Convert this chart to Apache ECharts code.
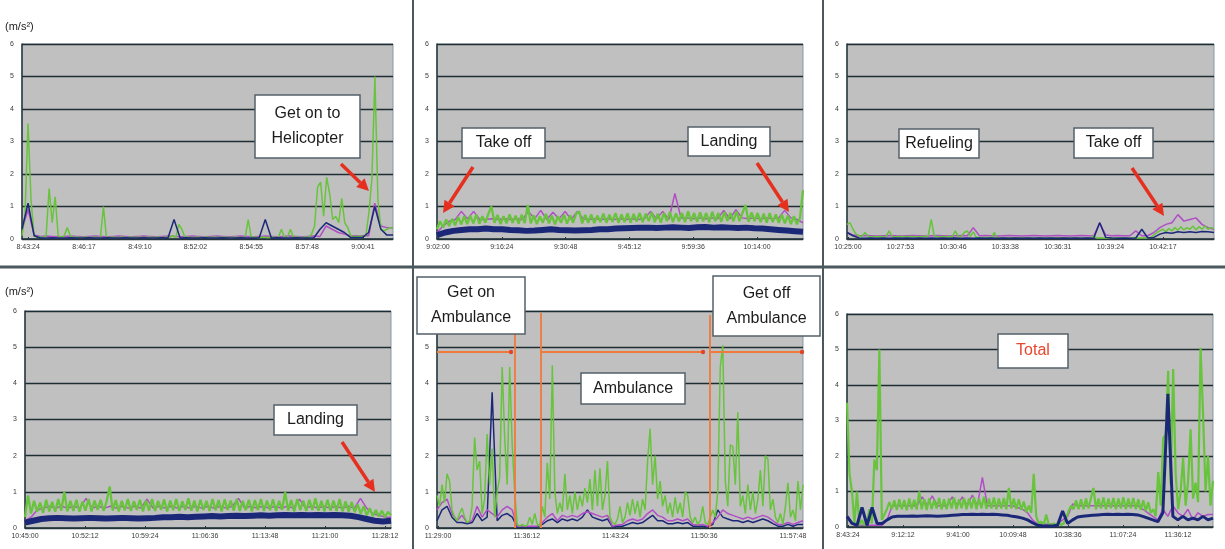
<!DOCTYPE html>
<html>
<head>
<meta charset="utf-8">
<script src="https://cdn.jsdelivr.net/npm/echarts@6/dist/echarts.min.js"></script>
<style>
  html, body { margin: 0; padding: 0; background: #fff; }
  #main { width: 1225px; height: 549px; }
</style>
</head>
<body>
<div id="main"></div>
<script>
// ---- data (acceleration, m/s2) ----
// panel 1: boarding the helicopter
const p1Span = ['8:43:05', '9:02:14'];
const p1Ticks = ['8:43:24', '8:46:17', '8:49:10', '8:52:02', '8:54:55', '8:57:48', '9:00:41'];
const p1Green = [0.1,0.75,3.55,1.2,0.1,0.05,0.06,0.05,0.1,1.55,
  0.5,1.3,0.1,0.05,0.1,0.35,0.1,0.05,0.06,0.05,
  0.05,0.06,0.05,0.05,0.06,0.05,0.05,1.0,0.05,0.05,
  0.06,0.05,0.05,0.06,0.05,0.05,0.06,0.05,0.05,0.06,
  0.05,0.05,0.06,0.05,0.05,0.06,0.05,0.05,0.06,0.05,
  0.1,0.05,0.45,0.3,0.05,0.06,0.05,0.05,0.06,0.05,
  0.05,0.06,0.05,0.05,0.06,0.05,0.05,0.06,0.05,0.05,
  0.05,0.06,0.05,0.05,0.05,0.6,0.05,0.06,0.05,0.05,
  0.06,0.05,0.05,0.06,0.05,0.05,0.3,0.05,0.05,0.3,
  0.05,0.06,0.05,0.05,0.06,0.05,0.15,0.4,1.6,1.75,
  0.7,1.9,1.4,0.6,0.7,0.5,1.25,0.5,0.35,0.1,
  0.08,0.08,0.09,0.08,0.1,0.8,1.85,5.0,1.2,0.3,
  0.25,0.3,0.35,0.33];
const p1Blue = [0.3,1.1,0.1,
  0.03,0.03,0.04,0.03,0.03,0.04,0.03,0.03,0.04,0.03,0.03,0.04,0.03,0.03,0.04,0.03,0.03,0.04,0.03,0.03,0.04,0.03,
  0.6,
  0.03,0.04,0.03,0.03,0.04,0.03,0.03,0.04,0.03,0.03,0.04,0.03,0.03,0.04,
  0.6,
  0.03,0.04,0.03,0.03,0.04,0.03,0.03,0.04,
  0.3,0.5,0.4,0.3,0.2,0.05,0.05,0.05,0.2,1.0,0.3,0.12,0.12];
const p1Purple = [0.3,0.9,0.12,
  0.08,0.09,0.08,0.07,0.08,0.09,0.08,0.07,0.08,0.09,0.08,0.07,0.08,0.09,0.08,0.07,
  0.08,0.09,0.08,0.07,0.08,0.09,0.08,0.07,0.08,0.09,0.08,0.07,0.08,0.09,0.08,0.07,
  0.08,0.09,0.08,0.07,0.08,0.09,0.08,0.07,0.08,0.09,0.08,0.07,0.08,0.09,0.08,
  0.4,0.3,0.2,0.15,0.1,0.1,0.1,0.1,1.1,0.4,0.35,0.35];

// panel 2: flight (take off to landing)
const p2Span = ['9:01:46', '10:24:23'];
const p2Ticks = ['9:02:00', '9:16:24', '9:30:48', '9:45:12', '9:59:36', '10:14:00'];
const p2Green = [0.3,0.55,0.35,0.6,0.4,0.62,0.42,0.68,0.45,0.7,
  0.46,0.72,0.48,0.75,0.47,0.7,0.5,0.78,1.0,0.5,
  0.74,0.46,0.7,0.48,0.76,0.5,0.72,0.47,0.75,0.49,
  1.05,0.48,0.73,0.46,0.7,0.5,0.77,0.48,0.72,0.45,
  0.7,0.5,0.75,0.47,0.73,0.5,0.78,0.85,0.48,0.74,
  0.5,0.76,0.49,0.72,0.52,0.78,0.5,0.75,0.53,0.8,
  0.5,0.76,0.52,0.79,0.5,0.77,0.54,0.8,0.52,0.78,
  0.55,0.82,0.52,0.78,0.5,0.8,0.55,0.83,0.52,0.79,
  0.54,0.8,0.52,0.85,0.55,0.8,0.53,0.82,0.55,0.8,
  0.52,0.84,0.55,0.8,0.53,0.83,0.56,0.8,0.54,0.85,
  0.55,0.8,1.05,0.53,0.82,0.55,0.8,0.52,0.78,0.5,
  0.8,0.52,0.76,0.5,0.75,0.48,0.72,0.46,0.7,0.45,
  0.65,1.5];
const p2Blue = [0.12,0.2,0.25,0.28,0.3,0.3,0.32,0.3,0.3,0.28,
  0.27,0.25,0.26,0.28,0.3,0.28,0.27,0.26,0.27,0.28,
  0.3,0.3,0.32,0.33,0.34,0.35,0.35,0.34,0.35,0.36,
  0.35,0.34,0.36,0.37,0.35,0.36,0.35,0.34,0.35,0.33,
  0.32,0.3,0.28,0.26,0.24,0.22];
const p2Purple = [0.2,0.4,0.55,0.6,0.85,0.62,0.85,0.6,
  0.6,0.62,0.6,0.62,0.6,0.62,0.6,
  0.85,0.62,0.88,0.6,0.82,0.62,0.85,0.6,0.85,
  0.62,0.6,0.62,0.6,0.62,0.6,0.62,0.6,0.62,0.6,0.62,
  0.85,0.62,0.85,0.6,1.4,
  0.65,0.65,0.62,0.65,0.62,0.65,0.62,
  0.88,0.62,0.9,
  0.65,0.62,0.65,0.62,0.65,0.62,0.65,
  0.88,0.65,0.6,0.5];

// panel 3: refueling, second take off
const p3Span = ['10:24:57', '10:45:05'];
const p3Ticks = ['10:25:00', '10:27:53', '10:30:46', '10:33:38', '10:36:31', '10:39:24', '10:42:17'];
const p3Green = [0.45,0.5,0.3,0.15,0.1,0.08,0.2,0.08,0.07,0.08,0.07,0.08,0.07,0.08,0.25,0.08,
  0.07,0.08,0.07,0.08,0.07,0.08,0.07,0.08,0.07,0.08,0.07,0.1,
  0.6,0.1,
  0.08,0.07,0.08,0.07,0.08,0.07,
  0.25,0.08,0.08,0.2,0.25,0.08,0.22,
  0.05,0.05,0.04,0.05,0.05,0.04,
  0.2,
  0.03,0.03,0.04,0.03,0.03,0.04,0.03,0.03,0.04,0.03,0.03,0.04,0.03,0.03,0.04,0.03,
  0.03,0.04,0.03,0.03,0.04,0.03,0.03,0.04,0.03,0.03,0.04,0.03,0.03,0.04,0.03,0.03,
  0.1,
  0.03,0.04,0.03,0.03,0.04,0.03,0.03,0.04,0.03,0.03,0.04,0.03,0.03,0.04,0.03,0.03,0.04,0.03,0.05,
  0.12,0.2,0.25,0.3,0.22,0.32,0.25,0.35,0.27,0.38,0.28,0.35,0.3,0.4,0.28,0.38,0.3,0.4,0.3,0.35,0.32];
const p3Blue = [0.2,0.1,
  0.03,0.02,0.03,0.02,0.03,0.02,0.03,0.02,0.03,0.02,0.03,0.02,0.03,0.02,0.03,0.02,0.03,0.02,0.03,0.02,
  0.03,0.02,0.03,0.02,0.03,0.02,0.03,0.02,0.03,0.02,0.03,0.02,0.03,0.02,0.03,0.02,0.03,0.02,0.03,0.02,
  0.5,0.05,0.03,0.02,0.03,0.02,0.03,0.3,0.03,0.05,
  0.15,0.2,0.18,0.22,0.2,0.22,0.2,0.23,0.22,0.2];
const p3Purple = [0.2,0.12,
  0.1,0.11,0.1,0.09,0.1,0.11,0.1,0.09,0.1,0.11,0.1,0.09,0.1,0.11,0.1,0.09,0.1,0.11,0.1,
  0.35,
  0.1,0.11,0.1,0.09,0.1,0.11,0.1,0.09,0.1,0.11,0.1,0.09,0.1,0.11,0.1,0.09,0.1,0.11,0.1,0.09,
  0.5,0.12,0.1,0.11,0.1,0.1,0.25,0.1,0.1,0.2,
  0.35,0.45,0.5,0.75,0.55,0.6,0.65,0.45,0.35,0.3];

// panel 4: flight to landing site
const p4Span = ['10:45:00', '11:28:55'];
const p4Ticks = ['10:45:00', '10:52:12', '10:59:24', '11:06:36', '11:13:48', '11:21:00', '11:28:12'];
const p4Green = [0.3,0.9,0.4,0.75,0.45,0.7,0.42,0.78,0.46,0.72,
  0.45,0.8,0.48,1.0,0.46,0.75,0.47,0.78,0.45,0.73,
  0.48,0.8,0.46,0.76,0.5,0.78,0.47,0.74,1.15,0.48,
  0.77,0.46,0.75,0.49,0.8,0.47,0.74,0.5,0.78,0.46,
  0.76,0.48,0.8,0.47,0.75,0.5,0.79,0.46,0.76,0.49,
  0.8,0.47,0.74,0.5,0.82,0.48,0.76,0.46,0.78,0.5,
  0.75,0.47,0.8,0.49,0.77,0.46,0.79,0.5,0.76,0.48,
  0.8,0.47,0.75,0.49,0.78,0.46,0.77,0.5,0.8,0.47,
  0.76,0.49,0.79,0.47,0.75,0.5,1.0,0.48,0.77,0.46,
  0.8,0.49,0.76,0.47,0.78,0.5,0.82,0.48,0.75,0.46,
  0.78,0.48,0.76,0.47,0.8,0.46,0.74,0.45,0.72,0.44,
  0.65,0.4,0.6,0.35,0.55,0.33,0.5,0.32,0.48,0.3,
  0.45,0.35];
const p4Blue = [0.15,0.2,0.25,0.27,0.28,0.27,0.26,0.27,0.28,0.27,
  0.26,0.27,0.28,0.27,0.26,0.27,0.28,0.3,0.3,0.31,
  0.3,0.31,0.32,0.33,0.32,0.33,0.34,0.33,0.34,0.35,
  0.34,0.35,0.36,0.35,0.36,0.35,0.36,0.35,0.36,0.35,
  0.34,0.3,0.25,0.2,0.18,0.2];
const p4Purple = [0.2,0.3,0.5,0.55,0.6,0.55,0.6,0.55,0.6,0.55,
  0.82,0.55,0.6,0.55,0.6,0.55,0.6,0.55,0.6,0.55,
  0.8,0.55,0.6,0.55,0.6,0.55,0.6,0.55,0.6,0.55,
  0.6,0.55,0.6,0.55,0.6,0.82,0.55,0.6,0.55,0.6,
  0.55,0.6,0.55,0.6,0.55,0.8,0.55,0.6,0.55,0.6,
  0.55,0.6,0.55,0.6,0.55,0.82,0.55,0.4,0.35,0.3,0.3];

// panel 5: ambulance transfer
const p5Span = ['11:28:55', '11:58:37'];
const p5Ticks = ['11:29:00', '11:36:12', '11:43:24', '11:50:36', '11:57:48'];
const p5Green = [0.9,0.6,1.2,0.7,1.5,1.3,0.5,0.3,0.2,0.4,
  0.55,0.3,0.15,0.2,0.6,2.5,1.6,1.85,0.4,0.8,
  2.6,1.2,2.2,0.3,1.0,1.4,4.45,2.5,1.2,4.45,
  2.3,1.0,0.1,0.05,0.1,0.05,0.08,0.3,0.1,0.4,
  0.1,0.05,0.6,0.3,1.8,0.8,4.5,1.0,0.4,0.7,
  0.45,1.5,0.5,0.9,0.4,1.0,0.5,0.9,0.6,1.1,
  0.7,1.35,0.5,1.6,0.6,1.65,0.5,0.9,1.85,0.3,
  0.15,0.1,0.25,0.6,0.15,0.3,0.7,0.35,0.8,0.4,
  0.75,0.3,0.8,0.5,1.85,2.75,1.2,2.0,0.8,1.3,
  0.6,0.9,0.4,0.7,0.3,0.85,0.4,0.7,0.3,1.0,
  0.9,0.3,0.15,0.3,0.1,0.2,0.6,0.15,0.1,0.3,
  0.5,0.3,1.0,4.45,5.05,1.3,0.6,2.3,2.25,1.2,
  3.2,0.6,0.9,0.4,1.2,0.5,1.0,0.4,0.8,1.6,
  0.6,2.0,1.9,0.5,0.8,0.3,0.15,0.4,0.1,0.6,
  1.25,0.3,0.5,0.2,1.3,0.5,1.2];
const p5Blue = [0.2,0.5,0.6,0.3,0.15,0.15,0.12,0.15,0.4,0.2,
  0.3,3.75,0.2,0.35,0.4,0.3,0.03,0.03,0.03,0.03,
  0.03,0.1,0.2,0.25,0.15,0.25,0.2,0.25,0.2,0.3,
  0.5,0.3,0.25,0.2,0.25,0.03,0.05,0.05,0.1,0.15,
  0.12,0.15,0.25,0.35,0.2,0.2,0.12,0.12,0.15,0.12,
  0.15,0.05,0.05,0.05,0.03,0.1,0.5,0.3,0.25,0.2,
  0.2,0.15,0.2,0.15,0.2,0.25,0.2,0.12,0.05,0.05,
  0.1,0.05,0.1,0.1];
const p5Purple = [0.5,0.7,0.8,0.4,0.2,0.35,0.15,0.2,0.6,0.3,
  0.5,0.4,0.3,0.5,0.6,0.5,0.05,0.05,0.05,0.05,
  0.05,0.15,0.3,0.4,0.2,0.35,0.3,0.35,0.3,0.4,
  0.45,0.4,0.35,0.3,0.35,0.05,0.08,0.1,0.2,0.25,
  0.2,0.25,0.4,0.5,0.35,0.3,0.2,0.2,0.25,0.2,
  0.25,0.1,0.08,0.1,0.05,0.15,0.3,0.5,0.4,0.35,
  0.3,0.25,0.3,0.25,0.3,0.35,0.3,0.2,0.1,0.1,
  0.15,0.1,0.15,0.2];

// panel 6: whole transport
const p6Span = ['8:42:53', '11:54:32'];
const p6Ticks = ['8:43:24', '9:12:12', '9:41:00', '10:09:48', '10:38:36', '11:07:24', '11:36:12'];
const p6Green = [3.5,1.5,1.0,0.1,1.0,0.05,0.2,0.05,0.1,0.5,
  0.1,1.9,1.6,5.0,0.2,0.35,0.5,0.7,0.5,0.75,
  0.48,0.78,0.5,0.76,0.47,0.8,0.5,0.77,0.49,1.0,
  0.5,0.78,0.48,0.8,0.5,0.76,0.52,0.82,0.49,0.78,
  0.5,0.8,0.52,0.83,0.5,0.78,0.53,0.82,0.5,0.8,
  0.52,0.84,0.5,0.8,0.53,0.85,0.51,0.8,0.52,0.83,
  0.5,0.8,0.52,0.82,0.5,1.1,0.52,0.8,0.5,0.78,
  0.48,0.72,0.42,0.6,0.4,1.5,0.3,0.1,0.15,0.05,
  0.35,0.08,0.05,0.1,0.05,0.15,0.05,0.1,0.25,0.45,
  0.6,0.5,0.75,0.5,0.78,0.5,0.8,0.52,0.82,1.1,
  0.5,0.8,0.52,0.83,0.5,0.8,0.53,0.82,0.5,0.8,
  0.52,0.84,0.5,0.8,0.53,0.82,0.5,0.78,0.48,0.75,
  0.45,0.7,0.4,0.5,0.3,1.55,0.6,2.5,2.6,4.4,
  1.2,4.45,1.5,0.5,1.0,1.95,0.6,1.3,2.75,0.8,
  1.25,0.7,5.05,3.2,1.0,2.0,0.6,1.3];
const p6Blue = [0.3,0.1,0.05,0.55,0.05,0.55,0.1,0.1,0.2,0.28,
  0.3,0.3,0.3,0.31,0.3,0.31,0.32,0.31,0.3,0.31,
  0.32,0.33,0.34,0.35,0.35,0.36,0.35,0.36,0.35,0.36,
  0.35,0.34,0.33,0.3,0.28,0.25,0.2,0.12,0.05,0.03,
  0.03,0.03,0.05,0.45,0.1,0.2,0.28,0.3,0.32,0.33,
  0.34,0.35,0.36,0.35,0.36,0.35,0.36,0.35,0.34,0.3,
  0.25,0.2,0.15,0.4,3.75,0.3,0.2,0.3,0.2,0.25,
  0.2,0.3,0.2,0.25];
const p6Purple = [0.3,0.1,0.05,0.05,0.05,0.05,0.05,0.05,0.2,0.6,
  0.6,0.6,0.6,0.6,0.6,0.85,0.6,0.88,0.6,0.6,
  0.6,0.85,0.6,0.85,0.6,0.9,0.6,1.4,0.6,0.6,
  0.6,0.6,0.6,0.6,0.55,0.5,0.4,0.2,0.08,0.08,
  0.08,0.08,0.08,0.2,0.3,0.65,0.6,0.6,0.6,0.6,
  0.6,0.6,0.6,0.6,0.6,0.6,0.6,0.6,0.6,0.5,
  0.4,0.3,0.2,0.5,0.3,0.6,0.4,0.3,0.5,0.2,
  0.4,0.3,0.35,0.35];

// ---- layout ----
const toSec = s => { const p = s.split(':').map(Number); return p[0] * 3600 + p[1] * 60 + p[2]; };
const fmtSec = v => {
  v = Math.round(v);
  const h = Math.floor(v / 3600), m = Math.floor((v % 3600) / 60), s = v % 60;
  return h + ':' + String(m).padStart(2, '0') + ':' + String(s).padStart(2, '0');
};

const GREEN = '#68c43c', BLUE = '#1b2878', PURPLE = '#b04fc4';
const FONT = '"Liberation Sans", Arial, sans-serif';

const panels = [
  { grid: { left: 22, top: 44, width: 371, height: 195 }, span: p1Span, ticks: p1Ticks,
    green: p1Green, blue: p1Blue, purple: p1Purple, gw: 1.5, bw: 1.5, order: ['purple', 'green', 'blue'] },
  { grid: { left: 437, top: 44, width: 366, height: 195 }, span: p2Span, ticks: p2Ticks,
    green: p2Green, blue: p2Blue, purple: p2Purple, gw: 2.3, bw: 6, order: ['purple', 'green', 'blue'] },
  { grid: { left: 847, top: 44, width: 367, height: 195 }, span: p3Span, ticks: p3Ticks,
    green: p3Green, blue: p3Blue, purple: p3Purple, gw: 1.5, bw: 1.5, order: ['purple', 'green', 'blue'] },
  { grid: { left: 25, top: 311, width: 366, height: 217 }, span: p4Span, ticks: p4Ticks,
    green: p4Green, blue: p4Blue, purple: p4Purple, gw: 2.3, bw: 6, order: ['purple', 'green', 'blue'] },
  { grid: { left: 437, top: 311, width: 366, height: 217 }, span: p5Span, ticks: p5Ticks,
    green: p5Green, blue: p5Blue, purple: p5Purple, gw: 1.5, bw: 1.5, order: ['blue', 'purple', 'green'] },
  { grid: { left: 847, top: 314, width: 366, height: 213 }, span: p6Span, ticks: p6Ticks,
    green: p6Green, blue: p6Blue, purple: p6Purple, gw: 2.2, bw: 3, order: ['purple', 'green', 'blue'] }
];

const grids = [], xAxes = [], yAxes = [], series = [];
const COLORS = { green: GREEN, blue: BLUE, purple: PURPLE };
panels.forEach((p, k) => {
  const t0 = toSec(p.span[0]), t1 = toSec(p.span[1]);
  const tickVals = p.ticks.map(toSec);
  grids.push(Object.assign({ show: true, backgroundColor: '#c0c0c0', borderColor: '#8a99a3', borderWidth: 1 }, p.grid));
  xAxes.push({
    type: 'value', gridIndex: k, min: t0, max: t1,
    axisLine: { onZero: false, lineStyle: { color: '#24363c', width: 1.5 } },
    axisTick: { show: true, inside: true, length: 2, customValues: tickVals, lineStyle: { color: '#24363c' } },
    axisLabel: { customValues: tickVals, formatter: fmtSec, fontSize: 7, color: '#3a3a3a', margin: 5, fontFamily: FONT },
    splitLine: { show: false }
  });
  yAxes.push({
    type: 'value', gridIndex: k, min: 0, max: 6, interval: 1,
    axisLine: { show: true, lineStyle: { color: '#24363c', width: 1.5 } },
    axisTick: { show: false },
    axisLabel: { fontSize: 7, color: '#3a3a3a', margin: 8, fontFamily: FONT },
    splitLine: { lineStyle: { color: '#1e2d33', width: 1.3 } }
  });
  const toPts = vals => vals.map((v, i) => [t0 + i * (t1 - t0) / (vals.length - 1), v]);
  const widths = { green: p.gw, blue: p.bw, purple: 1.5 };
  p.order.forEach(name => {
    series.push({
      type: 'line', name, xAxisIndex: k, yAxisIndex: k, data: toPts(p[name]),
      showSymbol: false, symbol: 'none',
      lineStyle: { color: COLORS[name], width: widths[name] }, itemStyle: { color: COLORS[name] }
    });
  });
});

// ---- annotations ----
const g = [];
const sep = (x1, y1, x2, y2, w) => g.push({ type: 'line', z: 90, shape: { x1, y1, x2, y2 }, style: { stroke: '#4b585d', lineWidth: w } });
sep(413, 0, 413, 549, 2);
sep(823, 0, 823, 549, 2);
sep(0, 267, 1225, 267, 3);

const unit = (x, y) => g.push({ type: 'text', z: 100, x, y, style: { text: '(m/s²)', fontSize: 11, fontFamily: FONT, fill: '#222', verticalAlign: 'middle' } });
unit(5, 27);
unit(5, 292);

function box(x, y, w, h, text, color) {
  g.push({ type: 'rect', z: 100, shape: { x, y, width: w, height: h }, style: { fill: '#fff', stroke: '#56606a', lineWidth: 1.5 } });
  g.push({ type: 'text', z: 101, x: x + w / 2, y: y + h / 2,
    style: { text, fontSize: 16, fontFamily: FONT, fill: color || '#1c1c1c', align: 'center', verticalAlign: 'middle', lineHeight: 25 } });
}
function arrow(x1, y1, x2, y2) {
  const a = Math.atan2(y2 - y1, x2 - x1), L = 12, H = 6;
  const bx = x2 - L * Math.cos(a), by = y2 - L * Math.sin(a);
  g.push({ type: 'line', z: 100, shape: { x1, y1, x2: bx, y2: by }, style: { stroke: '#e5301f', lineWidth: 3.5 } });
  g.push({ type: 'polygon', z: 100, shape: { points: [[x2, y2], [bx + H * Math.sin(a), by - H * Math.cos(a)], [bx - H * Math.sin(a), by + H * Math.cos(a)]] }, style: { fill: '#e5301f' } });
}

box(255, 95, 105, 63, 'Get on to\nHelicopter');
arrow(341, 164, 369, 191);
box(462, 128, 83, 30, 'Take off');
arrow(473, 167, 443, 213);
box(688, 127, 82, 29, 'Landing');
arrow(757, 163, 789, 212);
box(899, 129, 80, 29, 'Refueling');
box(1074, 128, 79, 30, 'Take off');
arrow(1132, 168, 1164, 216);
box(274, 405, 83, 30, 'Landing');
arrow(342, 442, 375, 492);

// ambulance phases (panel 5)
const orange = '#f07a3c';
const oline = (x1, y1, x2, y2) => g.push({ type: 'line', z: 95, shape: { x1, y1, x2, y2 }, style: { stroke: orange, lineWidth: 1.8 } });
const odot = (x, y) => g.push({ type: 'circle', z: 96, shape: { cx: x, cy: y, r: 2.2 }, style: { fill: '#e2442a' } });
oline(515, 334, 515, 528);
oline(541, 313, 541, 528);
oline(710, 315, 710, 528);
oline(437, 352, 511, 352); odot(511, 352);
oline(541, 352, 703, 352); odot(703, 352);
oline(710, 352, 802, 352); odot(802, 352);
box(417, 277, 108, 57, 'Get on\nAmbulance');
box(713, 276, 107, 60, 'Get off\nAmbulance');
box(581, 373, 104, 31, 'Ambulance');
box(998, 334, 70, 34, 'Total', '#e8452f');

const chart = echarts.init(document.getElementById('main'));
chart.setOption({
  animation: false,
  backgroundColor: '#ffffff',
  grid: grids,
  xAxis: xAxes,
  yAxis: yAxes,
  series,
  graphic: g
});
</script>
</body>
</html>
